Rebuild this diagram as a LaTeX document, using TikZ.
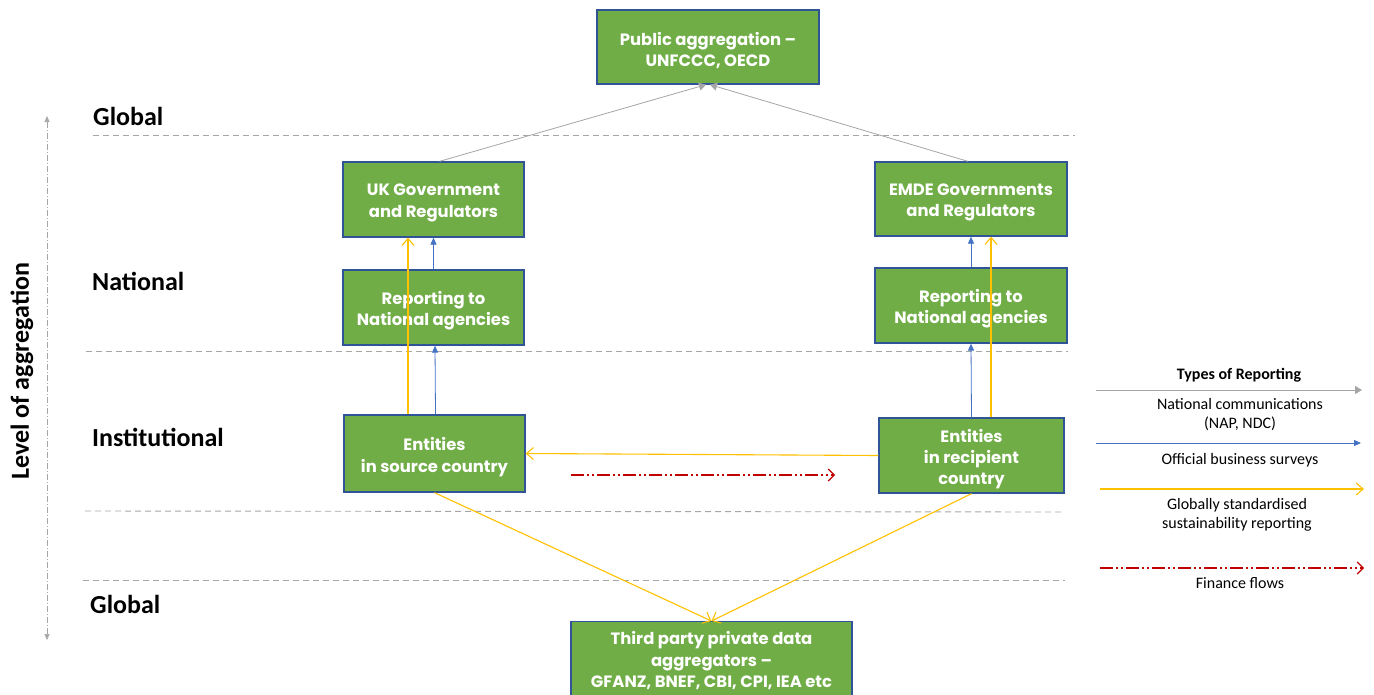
\documentclass[tikz,border=0pt]{standalone}
\usepackage{fontspec}
\setmainfont{Carlito}
\newfontfamily\boxfont{Poppins}
\usetikzlibrary{arrows.meta}
\definecolor{boxgreen}{HTML}{70AD47}
\definecolor{boxedge}{HTML}{2F5597}
\definecolor{grayarr}{HTML}{A5A5A5}
\definecolor{bluearr}{HTML}{4472C4}
\definecolor{yelarr}{HTML}{FFC000}
\definecolor{redarr}{HTML}{C00000}
\definecolor{dashgray}{HTML}{A6A6A6}
\tikzset{
  greenbox/.style={draw=boxedge, line width=1.3pt, fill=boxgreen, inner sep=0pt},
  boxtext/.style={text=white, align=center, inner sep=0pt, yshift=-3.5pt, font=\boxfont\bfseries\fontsize{16.4}{21.3}\selectfont},
  levelline/.style={draw=dashgray, line width=0.9pt, dash pattern=on 6pt off 4pt},
  levellabel/.style={anchor=west, font=\bfseries\fontsize{26}{28}\selectfont, inner sep=0pt},
  grayflow/.style={draw=grayarr, line width=0.8pt, -{Triangle[length=7pt,width=8pt]}},
  blueflow/.style={draw=bluearr, line width=0.8pt, -{Triangle[length=7pt,width=6pt]}},
  yelflow/.style={draw=yelarr, line width=1.1pt, -{Straight Barb[length=7pt,width=12pt]}},
  redflow/.style={draw=redarr, line width=1.1pt, dash pattern=on 13pt off 3pt on 2pt off 3pt on 2pt off 3pt, -{Straight Barb[length=6pt,width=12pt]}},
  legtext/.style={font=\fontsize{16}{19}\selectfont, align=center, inner sep=0pt},
}
\begin{document}
\begin{tikzpicture}[x=1pt,y=-1pt]
\useasboundingbox (0,0) rectangle (1374,694);

% level lines
\coordinate (l1a) at (93,135);  \coordinate (l1b) at (1075,135);
\coordinate (l2a) at (86,351);  \coordinate (l2b) at (1068,351);
\coordinate (l3a) at (85,511);  \coordinate (l3b) at (1062,512);
\coordinate (l4a) at (83,580);  \coordinate (l4b) at (1065,580);
\draw[levelline] (l1a) -- (l1b);
\draw[levelline] (l2a) -- (l2b);
\draw[levelline] (l3a) -- (l3b);
\draw[levelline] (l4a) -- (l4b);

% level labels
\node[levellabel] (gtop) at (93,116) {Global};
\node[levellabel] (nat) at (92,281) {National};
\node[levellabel] (inst) at (92,437) {Institutional};
\node[levellabel] (gbot) at (90,604) {Global};

% axis
\coordinate (axtop) at (47,116);
\coordinate (axbot) at (47,640);
\draw[draw=dashgray, line width=0.6pt, dash pattern=on 6pt off 2pt on 1pt off 2pt, {Triangle[length=6pt,width=5pt]}-{Triangle[length=6pt,width=5pt]}] (axtop) -- (axbot);
\node[rotate=90, font=\bfseries\fontsize{26}{28}\selectfont, inner sep=0pt] (axlab) at (22,371) {Level of aggregation};

% boxes
\node[greenbox, minimum width=222pt, minimum height=74pt] (pub) at (708,47) {};
\node[boxtext] (pubt) at (pub.center) {Public aggregation –\\UNFCCC, OECD};
\node[greenbox, minimum width=181pt, minimum height=75pt] (ukg) at (433.5,199.5) {};
\node[boxtext] (ukgt) at (ukg.center) {UK Government\\and Regulators};
\node[greenbox, minimum width=192pt, minimum height=74pt] (emg) at (971,199) {};
\node[boxtext] (emgt) at (emg.center) {EMDE Governments\\and Regulators};
\node[greenbox, minimum width=181pt, minimum height=75pt] (ukr) at (433.5,307.5) {};
\node[boxtext] (ukrt) at (ukr.center) {Reporting to\\National agencies};
\node[greenbox, minimum width=192pt, minimum height=75pt] (emr) at (971,305.5) {};
\node[boxtext] (emrt) at (emr.center) {Reporting to\\National agencies};
\node[greenbox, minimum width=181pt, minimum height=77pt] (uke) at (434.5,453.5) {};
\node[boxtext] (uket) at (uke.center) {Entities\\in source country};
\node[greenbox, minimum width=185pt, minimum height=75pt] (eme) at (971.5,455.5) {};
\node[boxtext] (emet) at (eme.center) {Entities\\in recipient\\country};
\node[greenbox, minimum width=281pt, minimum height=78pt, anchor=north] (tp) at (711.5,621) {};
\node[boxtext, yshift=3.5pt] (tpt) at (tp.center) {Third party private data\\aggregators –\\GFANZ, BNEF, CBI, CPI, IEA etc};

% gray flows
\draw[grayflow] ([xshift=6pt]ukg.north) -- ([xshift=-2pt]pub.south);
\draw[grayflow] ([xshift=-3pt]emg.north) -- ([xshift=2pt]pub.south);

% blue flows
\draw[blueflow] (ukr.north) -- (ukg.south);
\draw[blueflow] ([xshift=1pt]uke.north) -- ([xshift=1.5pt]ukr.south);
\draw[blueflow] (emr.north) -- (emg.south);
\draw[blueflow] (eme.north) -- (emr.south);

% yellow flows
\draw[yelflow] ([xshift=-26.5pt]uke.north) -- ([xshift=-25.5pt]ukg.south);
\draw[yelflow] ([xshift=19.5pt]eme.north) -- ([xshift=20pt]emg.south);
\draw[yelflow] (eme.west) -- (uke.east);
\draw[yelflow] (uke.south) -- (tp.north);
\draw[yelflow] (eme.south) -- (tp.north);

% finance flow
\coordinate (ffa) at (571,475);
\coordinate (ffb) at (835,475);
\draw[redflow] (ffa) -- (ffb);

% legend
\node[font=\bfseries\fontsize{16}{19}\selectfont, inner sep=0pt] (legt) at (1239,375) {Types of Reporting};
\coordinate (lg1a) at (1096,390); \coordinate (lg1b) at (1362,390);
\draw[grayflow] (lg1a) -- (lg1b);
\node[legtext] (lg1t) at (1240,414.5) {National communications\\(NAP, NDC)};
\coordinate (lg2a) at (1096,443); \coordinate (lg2b) at (1361,443);
\draw[blueflow] (lg2a) -- (lg2b);
\node[legtext] (lg2t) at (1240,460) {Official business surveys};
\coordinate (lg3a) at (1100,489); \coordinate (lg3b) at (1364,489);
\draw[yelflow] (lg3a) -- (lg3b);
\node[legtext] (lg3t) at (1237,514.5) {Globally standardised\\sustainability reporting};
\coordinate (lg4a) at (1100,568); \coordinate (lg4b) at (1364,568);
\draw[redflow] (lg4a) -- (lg4b);
\node[legtext] (lg4t) at (1240,583) {Finance flows};
\end{tikzpicture}
\end{document}
